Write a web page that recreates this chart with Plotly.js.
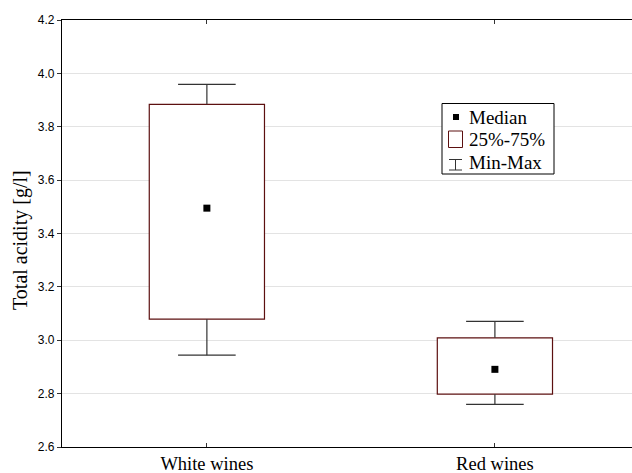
<!DOCTYPE html>
<html><head><meta charset="utf-8">
<script src="https://cdn.plot.ly/plotly-3.0.1.min.js"></script>
<style>html,body{margin:0;padding:0;background:#fff}</style>
</head><body>
<div id="chart" style="width:632px;height:473px"></div>
<script>
const categories = ["White wines", "Red wines"];
const minVals    = [2.944, 2.760];
const q1Vals     = [3.079, 2.798];
const medianVals = [3.495, 2.891];
const q3Vals     = [3.884, 3.009];
const maxVals    = [3.959, 3.071];
const yTicks     = [2.6, 2.8, 3.0, 3.2, 3.4, 3.6, 3.8, 4.0, 4.2];
const legendLabels = ["Median", "25%-75%", "Min-Max"];
const yTitle = "Total acidity [g/l]";

const idx = categories.map((c, i) => i);
const boxW = 0.4, capHalf = 0.1;
const boxColor = "#5c1010";
const serif = "Liberation Serif, Times New Roman, serif";

const wx = [], wy = [];
idx.forEach(i => {
  wx.push(i, i, null, i - capHalf, i + capHalf, null, i, i, null, i - capHalf, i + capHalf, null);
  wy.push(q3Vals[i], maxVals[i], null, maxVals[i], maxVals[i], null,
          q1Vals[i], minVals[i], null, minVals[i], minVals[i], null);
});

const traces = [
  {type: "bar", x: idx, base: q1Vals, y: q3Vals.map((v, i) => v - q1Vals[i]), width: boxW,
   marker: {color: "#ffffff", line: {color: boxColor, width: 1.2}}, hoverinfo: "skip", showlegend: false},
  {type: "scatter", mode: "lines", x: wx, y: wy, line: {color: "#333333", width: 1.2},
   hoverinfo: "skip", showlegend: false},
  {type: "scatter", mode: "markers", x: idx, y: medianVals,
   marker: {symbol: "square", size: 7, color: "#000000"}, showlegend: false}
];

// manual legend in pixel-space -> paper coords
const W = 632, H = 473, mL = 62, mR = 0, mT = 20, mB = 26;
const pw = W - mL - mR, ph = H - mT - mB;
const px = x => (x - mL) / pw;
const py = y => 1 - (y - mT) / ph;
const shapes = [
  {type: "rect", xref: "paper", yref: "paper", x0: px(442), x1: px(554), y0: py(103.5), y1: py(174),
   line: {color: "#000", width: 1}, fillcolor: "#fff"},
  {type: "rect", xref: "paper", yref: "paper", x0: px(453), x1: px(459), y0: py(114), y1: py(120),
   line: {width: 0}, fillcolor: "#000"},
  {type: "rect", xref: "paper", yref: "paper", x0: px(448.5), x1: px(462.5), y0: py(131), y1: py(147.5),
   line: {color: boxColor, width: 1}, fillcolor: "#fff"},
  {type: "line", xref: "paper", yref: "paper", x0: px(449), x1: px(462), y0: py(159.5), y1: py(159.5), line: {color: "#333", width: 1}},
  {type: "line", xref: "paper", yref: "paper", x0: px(455.5), x1: px(455.5), y0: py(159.5), y1: py(170), line: {color: "#333", width: 1}},
  {type: "line", xref: "paper", yref: "paper", x0: px(449), x1: px(462), y0: py(170), y1: py(170), line: {color: "#333", width: 1}}
];
const legY = [117, 139.5, 163];
const annotations = legendLabels.map((t, k) => ({
  xref: "paper", yref: "paper", x: px(466.5), y: py(legY[k]), xanchor: "left", yanchor: "middle",
  text: t, showarrow: false, font: {family: serif, size: 19, color: "#000"}
}));
annotations.push({
  xref: "paper", yref: "paper", x: px(20), y: py(240), xanchor: "center", yanchor: "middle",
  text: yTitle, textangle: -90, showarrow: false, font: {family: serif, size: 20, color: "#000"}
});

const layout = {
  width: W, height: H,
  margin: {l: mL, r: mR, t: mT, b: mB, pad: 0},
  paper_bgcolor: "#fff", plot_bgcolor: "#fff",
  showlegend: false, bargap: 0,
  xaxis: {range: [-0.503, 1.476], tickvals: idx, ticktext: categories,
          showline: true, linecolor: "#000", linewidth: 1.2, mirror: "ticks",
          ticks: "inside", ticklen: 4, tickcolor: "#333", showgrid: false, zeroline: false,
          tickfont: {family: serif, size: 18.5, color: "#000"}, fixedrange: true},
  yaxis: {range: [2.6, 4.2], tickvals: yTicks, ticktext: yTicks.map(v => v.toFixed(1)),
          showline: true, linecolor: "#000", linewidth: 1.2,
          ticks: "outside", ticklen: 4, tickcolor: "#333",
          showgrid: true, gridcolor: "#e3e3e3", gridwidth: 1, zeroline: false,
          tickfont: {family: "Liberation Sans, Arial, sans-serif", size: 12, color: "#000"},
          automargin: false, fixedrange: true},
  shapes: shapes, annotations: annotations
};
Plotly.newPlot("chart", traces, layout, {displayModeBar: false, staticPlot: true});
</script>
</body></html>
